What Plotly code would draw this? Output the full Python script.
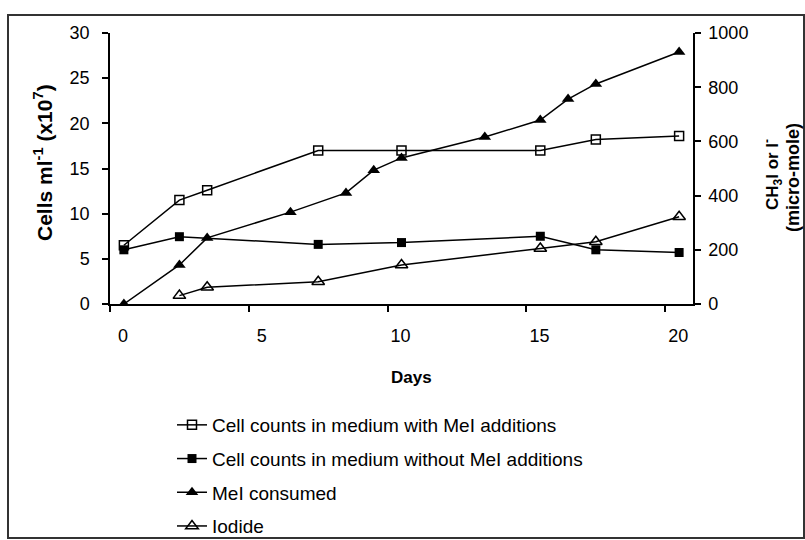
import plotly.graph_objects as go

# Sampling days for each series
days_cells = [0, 2, 3, 7, 10, 15, 17, 20]
days_cells_without = [0, 2, 7, 10, 15, 17, 20]
days_mei = [0, 2, 3, 6, 8, 9, 10, 13, 15, 16, 17, 20]
days_iodide = [2, 3, 7, 10, 15, 17, 20]

# Cell counts (x10^7 cells per ml)
cells_with_mei = [6.5, 11.5, 12.6, 17.0, 17.0, 17.0, 18.2, 18.6]
cells_without_mei = [6.0, 7.45, 6.6, 6.8, 7.5, 6.0, 5.7]

# CH3I consumed and iodide released (micro-mole)
mei_consumed = [0, 144, 244, 339, 410, 494, 539, 616, 679, 756, 812, 930]
iodide = [31, 62, 82, 144, 205, 230, 322]

# X axis tick labels
x_tick_text = ["0", "5", "10", "15", "20"]
x_tick_vals = [-0.5, 4.5, 9.5, 14.5, 19.5]

FONT = "Liberation Sans, Arial, sans-serif"
LINE = dict(color="black", width=1.5)

fig = go.Figure()

fig.add_trace(go.Scatter(
    x=days_cells, y=cells_with_mei, mode="lines+markers",
    name="Cell counts in medium with MeI additions",
    line=LINE, legendgroup="a",
    marker=dict(symbol="square-open", size=9, color="black", line=dict(width=1.5, color="black")),
))
fig.add_trace(go.Scatter(
    x=days_cells_without, y=cells_without_mei, mode="lines+markers",
    name="Cell counts in medium without MeI additions",
    line=LINE, legendgroup="b",
    marker=dict(symbol="square", size=9, color="black"),
))
fig.add_trace(go.Scatter(
    x=days_mei, y=mei_consumed, mode="lines+markers", yaxis="y2",
    name="MeI consumed",
    line=LINE, legendgroup="c",
    marker=dict(symbol="triangle-up", size=11, color="black"),
))
fig.add_trace(go.Scatter(
    x=days_iodide, y=iodide, mode="lines+markers", yaxis="y2",
    name="Iodide",
    line=LINE, legendgroup="d",
    marker=dict(symbol="triangle-up-open", size=11, color="black", line=dict(width=1.5, color="black")),
))

W, H = 805, 540
L, R, T, B = 110, 693, 33, 304


def px(xp):
    return (xp - L) / (R - L)


def py(yp):
    return (B - yp) / (B - T)


fig.update_layout(
    width=W, height=H,
    margin=dict(l=L, r=W - R, t=T, b=H - B, autoexpand=False),
    paper_bgcolor="white", plot_bgcolor="white",
    font=dict(family=FONT, size=18, color="black"),
    showlegend=True,
    legend=dict(
        xref="container", yref="container",
        x=172 / W, y=1 - 406 / H, xanchor="left", yanchor="top",
        traceorder="grouped", tracegroupgap=6,
        font=dict(family=FONT, size=19, color="black"),
        bgcolor="rgba(0,0,0,0)", itemwidth=30,
    ),
    xaxis=dict(
        range=[-0.5, 20.5], tickvals=x_tick_vals, ticktext=x_tick_text,
        ticklabelshift=13, ticklabelstandoff=9,
        showgrid=False, zeroline=False, showline=True, linecolor="black", linewidth=1.5,
        ticks="outside", ticklen=6, tickwidth=1.5, tickcolor="black",
        tickfont=dict(family=FONT, size=18),
    ),
    yaxis=dict(
        range=[0, 30], dtick=5, tick0=0,
        showgrid=False, zeroline=False, showline=True, linecolor="black", linewidth=1.5,
        ticks="outside", ticklen=6, tickwidth=1.5, tickcolor="black",
        ticklabelstandoff=9,
        tickfont=dict(family=FONT, size=18),
    ),
    yaxis2=dict(
        range=[0, 1000], dtick=200, tick0=0, overlaying="y", side="right",
        showgrid=False, zeroline=False, showline=True, linecolor="black", linewidth=1.5,
        ticks="outside", ticklen=6, tickwidth=1.5, tickcolor="black",
        ticklabelstandoff=4,
        tickfont=dict(family=FONT, size=18),
    ),
)

# Outer chart frame
fig.add_shape(
    type="rect", xref="paper", yref="paper", layer="below",
    x0=px(8), x1=px(804), y0=py(538), y1=py(15),
    line=dict(color="#333333", width=2), fillcolor="rgba(0,0,0,0)",
)

# Axis titles
fig.add_annotation(
    xref="paper", yref="paper", x=px(411), y=py(377),
    text="<b>Days</b>", showarrow=False, font=dict(family=FONT, size=17),
    xanchor="center", yanchor="middle",
)
fig.add_annotation(
    xref="paper", yref="paper", x=px(43), y=py(163),
    text="<b>Cells ml<sup>-1</sup> (x10<sup>7</sup>)</b>", showarrow=False,
    textangle=-90, font=dict(family=FONT, size=21),
    xanchor="center", yanchor="middle",
)
fig.add_annotation(
    xref="paper", yref="paper", x=px(772), y=py(175),
    text="<b>CH<sub>3</sub>I or I<sup>-</sup></b>", showarrow=False,
    textangle=-90, font=dict(family=FONT, size=17),
    xanchor="center", yanchor="middle",
)
fig.add_annotation(
    xref="paper", yref="paper", x=px(793), y=py(178),
    text="<b>(micro-mole)</b>", showarrow=False,
    textangle=-90, font=dict(family=FONT, size=18),
    xanchor="center", yanchor="middle",
)

fig.write_html("out.html")
